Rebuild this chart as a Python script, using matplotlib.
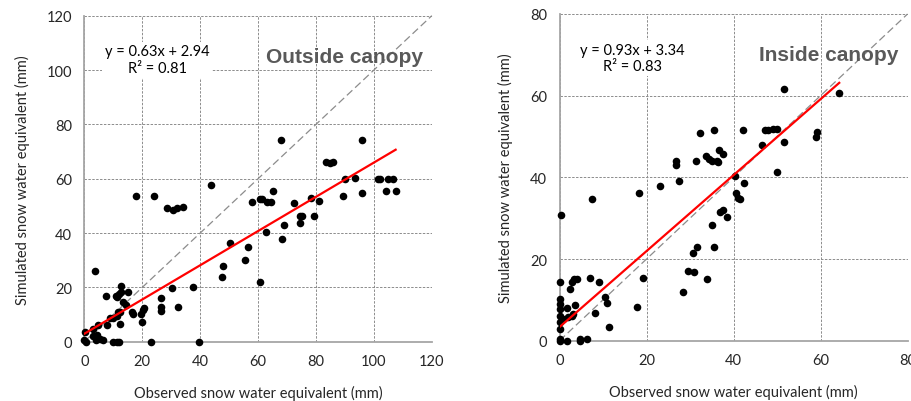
import matplotlib.pyplot as plt
import numpy as np

# ── Outside canopy: observed vs simulated SWE (mm) ───────────────────────────
obs_out = [0, 0.2, 0.5, 3.1, 4.5, 4.0, 5.4, 6.3, 3.6, 2.9, 4.8, 7.7, 8.9, 10.0,
           11.2, 11.5, 12.3, 12.3, 7.5, 10.8, 11.4, 12.1, 12.7, 12.6, 13.5, 14.3,
           15.2, 16.6, 16.9, 19.6, 20.2, 20.7, 20.0, 10.0, 11.2, 12.1, 23.0, 26.4,
           26.6, 26.6, 30.4, 32.5, 37.5, 39.7,
           17.9, 23.9, 28.6, 30.6, 31.9, 34.0, 43.8, 47.6, 47.9, 50.4, 55.4, 56.5,
           60.7, 58.0, 60.6, 61.5, 62.6, 63.1, 64.6, 65.2, 68.4, 69.0, 72.4, 74.4,
           74.4, 75.3, 78.1, 79.3, 81.0, 89.4, 90.1, 93.3, 95.8, 101.5, 102.1,
           104.2, 105.0, 106.7, 107.5, 67.8, 95.8, 83.6, 84.8, 85.7]
sim_out = [0.5, 3.5, 0, 2.0, 2.5, 0.7, 1.0, 0.7, 26.0, 4.5, 6.1, 6.1, 8.6, 8.9,
           9.5, 11.1, 10.9, 6.5, 17.0, 17.0, 16.6, 17.6, 20.4, 18.2, 14.5, 13.6,
           18.2, 11.1, 10.3, 10.3, 11.5, 12.3, 7.4, 0, 0, 0, 0, 16.1,
           12.7, 11.3, 19.6, 12.7, 20.0, 0,
           53.6, 53.8, 49.3, 48.6, 49.1, 49.6, 57.7, 23.8, 27.8, 36.2, 30.0, 34.8,
           21.8, 51.4, 52.6, 52.6, 40.2, 51.4, 51.4, 55.5, 37.8, 42.8, 51.1, 43.6,
           46.4, 46.4, 52.8, 46.4, 51.7, 53.7, 59.9, 60.3, 54.8, 59.9, 59.9,
           55.5, 60.0, 60.0, 55.4, 74.4, 74.4, 66.3, 65.8, 66.3]

# ── Inside canopy ────────────────────────────────────────────────────────────
obs_in = [51.6, 64.3, 32.3, 35.4, 42.1, 47.2, 48.0, 49.1, 50.1, 59.1, 59.0, 46.5,
          51.6, 26.8, 26.8, 31.4, 33.7, 34.4, 35.0, 36.1, 36.5, 36.7, 37.5, 40.3,
          49.9, 23.1, 27.5, 42.3, 40.6, 41.0, 41.5, 36.9, 37.5, 38.4, 35.1, 35.6,
          31.5, 30.8, 29.6, 30.9, 33.8, 28.4, 7.5, 18.3, 19.1, 17.7, 7.0, 9.1,
          10.5, 10.9, 8.1, 11.4, 4.7, 6.4, 0.3, 0, 2.8, 3.4, 4.0, 2.4, 0, 0, 0, 0,
          1.7, 3.6, 0.9, 2.0, 2.8, 3.2, 0, 0, 0, 1.7, 4.6, 0]
sim_in = [61.7, 60.6, 50.9, 51.6, 51.7, 51.6, 51.7, 51.9, 51.9, 51.1, 49.9, 47.8,
          48.6, 43.9, 43.1, 43.9, 45.3, 44.5, 44.1, 43.9, 43.7, 46.6, 45.8, 40.4,
          41.3, 37.8, 39.1, 38.6, 36.1, 34.9, 34.6, 31.5, 32.0, 30.2, 28.4, 23.0,
          23.0, 21.5, 17.0, 16.8, 15.1, 12.0, 34.6, 36.2, 15.4, 8.3, 15.4, 14.3,
          10.6, 9.2, 6.8, 3.4, 0.4, 0.4, 30.8, 14.3, 14.3, 15.1, 15.1, 12.7, 10.2,
          9.0, 7.8, 6.1, 8.0, 8.7, 5.3, 5.7, 6.1, 6.5, 4.5, 2.9, 0.4, 0, 0, 0]

# (obs, sim, slope, intercept, r2, axis max, tick step, label, axes rect)
panels = [
    (obs_out, sim_out, 0.63, 2.94, 0.81, 120, 20, "Outside canopy",
     [0.0925, 0.1475, 0.381, 0.811]),
    (obs_in, sim_in, 0.93, 3.34, 0.83, 80, 20, "Inside canopy",
     [0.6135, 0.15, 0.3816, 0.8127]),
]

fig = plt.figure(figsize=(9.12, 4.02), dpi=100)
fig.patch.set_facecolor("white")

for obs, sim, slope, icpt, r2, vmax, step, label, rect in panels:
    ax = fig.add_axes(rect)
    ticks = np.arange(0, vmax + 1, step)
    ax.set_xlim(0, vmax)
    ax.set_ylim(0, vmax)
    ax.set_xticks(ticks)
    ax.set_yticks(ticks)
    ax.grid(True, color="#8c8c8c", linestyle=(0, (2.5, 1.5)), linewidth=0.7)
    ax.set_axisbelow(True)
    for side in ("top", "right"):
        ax.spines[side].set_visible(False)
    for side in ("left", "bottom"):
        ax.spines[side].set_color("#a6a6a6")
        ax.spines[side].set_linewidth(1.3)
    ax.tick_params(length=0, labelsize=10.5, pad=9, colors="#262626")
    for t in ax.get_xticklabels() + ax.get_yticklabels():
        t.set_fontfamily("Lato")

    # 1:1 line
    ax.plot([0, vmax], [0, vmax], color="#8c8c8c", linestyle=(0, (6, 3)),
            linewidth=0.9, zorder=2, clip_on=False)
    ax.scatter(obs, sim, s=30, color="black", zorder=3, clip_on=False,
               linewidths=0)
    xs = np.array([min(obs), max(obs)])
    ax.plot(xs, slope * xs + icpt, color="red", linewidth=1.6, zorder=4)

    ax.text(0.21, 0.865, f"y = {slope:.2f}x + {icpt:.2f}\nR² = {r2:.2f}",
            transform=ax.transAxes, ha="center", va="center", fontsize=10.5,
            family="Lato", color="black", linespacing=1.25,
            bbox=dict(facecolor="white", edgecolor="none", pad=2), zorder=5)
    ax.text(0.974, 0.875, label, transform=ax.transAxes, ha="right",
            va="center", fontsize=15, fontweight="bold",
            family="Liberation Sans", color="#595959", zorder=5)

    ax.set_xlabel("Observed snow water equivalent (mm)", fontsize=10.5,
                  family="Lato", color="#262626", labelpad=12)
    ax.set_ylabel("Simulated snow water equivalent (mm)", fontsize=10.5,
                  family="Lato", color="#262626", labelpad=12)

fig.savefig("out.png", dpi=100, facecolor="white")
